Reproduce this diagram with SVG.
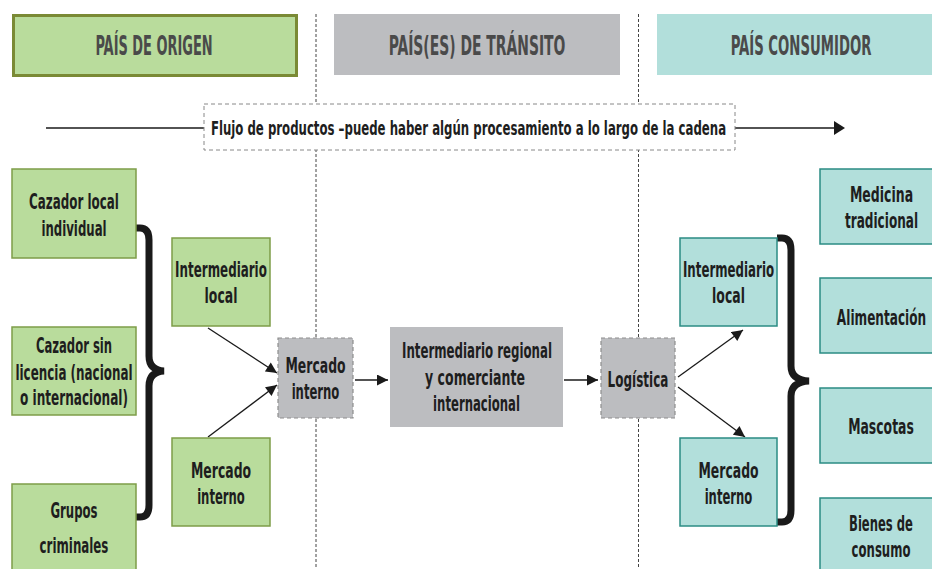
<svg xmlns="http://www.w3.org/2000/svg" width="932" height="569" viewBox="0 0 932 569">
<style>
text{font-family:"DejaVu Sans Condensed","DejaVu Sans",sans-serif;font-weight:bold;text-anchor:middle;fill:#1e1e1e;font-size:21px}
.hd{font-size:26px;fill:#4a4a4a}
.fl{font-size:19px}
.g{fill:#b9dc9c;stroke:#7e9d48;stroke-width:1.5}
.t{fill:#b2dfdb;stroke:#2b8c84;stroke-width:1.5}
.gr{fill:#bcbdc0}
.gd{fill:#bcbdc0;stroke:#8e8e8e;stroke-width:1.2;stroke-dasharray:4 3}
.vl{stroke:#444;stroke-width:1;stroke-dasharray:3 2;fill:none}
.ar{stroke:#1a1a1a;stroke-width:1.3;fill:none;marker-end:url(#ah)}
.br{stroke:#1a1a1a;stroke-width:7;fill:none}
</style>
<defs>
<marker id="ah" viewBox="0 0 10 10" refX="10" refY="5" markerUnits="userSpaceOnUse" markerWidth="12" markerHeight="11" orient="auto"><path d="M0,0 L10,5 L0,10 z" fill="#1a1a1a"/></marker>
</defs>
<rect width="932" height="569" fill="#fff"/>
<g id="dividers">
<line class="vl" x1="316" y1="14" x2="316" y2="569"/>
<line class="vl" x1="638.5" y1="14" x2="638.5" y2="569"/>
</g>
<g id="header-origen"><rect x="13.5" y="15.5" width="283" height="60" fill="#b9dc9c" stroke="#7a8a35" stroke-width="3"/><text class="hd" transform="matrix(0.62,0,0,1,154,0)" x="0" y="55" textLength="189" lengthAdjust="spacingAndGlyphs">PAÍS DE ORIGEN</text></g>
<g id="header-transito"><rect x="334" y="14" width="286" height="61" class="gr"/><text class="hd" transform="matrix(0.62,0,0,1,477,0)" x="0" y="55" textLength="285" lengthAdjust="spacingAndGlyphs">PAÍS(ES) DE TRÁNSITO</text></g>
<g id="header-consumidor"><rect x="657" y="14" width="275" height="61" fill="#b2dfdb"/><text class="hd" transform="matrix(0.62,0,0,1,801,0)" x="0" y="55" textLength="227" lengthAdjust="spacingAndGlyphs">PAÍS CONSUMIDOR</text></g>
<g id="connectors">
<line x1="46" y1="128" x2="204" y2="128" stroke="#1a1a1a" stroke-width="1.5"/>
<line x1="735" y1="128" x2="836" y2="128" stroke="#1a1a1a" stroke-width="1.5"/>
<path d="M834,121 L845,128 L834,135 z" fill="#1a1a1a"/>
<line class="ar" x1="208" y1="328" x2="277" y2="373"/>
<line class="ar" x1="208" y1="437" x2="277" y2="385"/>
<line class="ar" x1="355" y1="380" x2="388" y2="380"/>
<line class="ar" x1="564" y1="380" x2="598" y2="380"/>
<line class="ar" x1="678" y1="377" x2="743" y2="330"/>
<line class="ar" x1="678" y1="387" x2="745" y2="437"/>
<path class="br" d="M136,228 H140 Q149,228 149,240 V356 Q149,370 164,371 Q149,372 149,386 V505 Q149,517 140,517 H136"/>
<path class="br" d="M777,238 H782 Q791,238 791,250 V366 Q791,380 809,381 Q791,382 791,396 V510 Q791,522 782,522 H777"/>
</g>
<g id="flujo"><rect x="204" y="104" width="531" height="46" fill="#fff" stroke="#888" stroke-width="1" stroke-dasharray="4 3"/><text class="fl" transform="matrix(0.62,0,0,1,468.5,0)" x="0" y="135" textLength="831" lengthAdjust="spacingAndGlyphs">Flujo de productos –puede haber algún procesamiento a lo largo de la cadena</text></g>
<g id="cazador-local"><rect class="g" x="12" y="169" width="124" height="89"/><text transform="matrix(0.62,0,0,1,74,0)" x="0" y="209" textLength="145" lengthAdjust="spacingAndGlyphs">Cazador local</text><text transform="matrix(0.62,0,0,1,74,0)" x="0" y="236" textLength="105" lengthAdjust="spacingAndGlyphs">individual</text></g>
<g id="cazador-sin-licencia"><rect class="g" x="12" y="327" width="124" height="88"/><text transform="matrix(0.62,0,0,1,74,0)" x="0" y="353" textLength="123" lengthAdjust="spacingAndGlyphs">Cazador sin</text><text transform="matrix(0.62,0,0,1,74,0)" x="0" y="380" textLength="189" lengthAdjust="spacingAndGlyphs">licencia (nacional</text><text transform="matrix(0.62,0,0,1,74,0)" x="0" y="405" textLength="174" lengthAdjust="spacingAndGlyphs">o internacional)</text></g>
<g id="grupos-criminales"><rect class="g" x="12" y="484" width="124" height="95"/><text transform="matrix(0.62,0,0,1,74,0)" x="0" y="518" textLength="76" lengthAdjust="spacingAndGlyphs">Grupos</text><text transform="matrix(0.62,0,0,1,74,0)" x="0" y="553" textLength="111" lengthAdjust="spacingAndGlyphs">criminales</text></g>
<g id="intermediario-local-origen"><rect class="g" x="172" y="238" width="98" height="88"/><text transform="matrix(0.62,0,0,1,221,0)" x="0" y="277" textLength="148" lengthAdjust="spacingAndGlyphs">Intermediario</text><text transform="matrix(0.62,0,0,1,221,0)" x="0" y="303" textLength="53" lengthAdjust="spacingAndGlyphs">local</text></g>
<g id="mercado-interno-origen"><rect class="g" x="172" y="438" width="98" height="88"/><text transform="matrix(0.62,0,0,1,221,0)" x="0" y="478" textLength="97" lengthAdjust="spacingAndGlyphs">Mercado</text><text transform="matrix(0.62,0,0,1,221,0)" x="0" y="504" textLength="77" lengthAdjust="spacingAndGlyphs">interno</text></g>
<g id="mercado-interno-centro"><rect class="gd" x="278" y="338" width="75" height="80"/><text transform="matrix(0.62,0,0,1,315.5,0)" x="0" y="373" textLength="97" lengthAdjust="spacingAndGlyphs">Mercado</text><text transform="matrix(0.62,0,0,1,315.5,0)" x="0" y="399" textLength="77" lengthAdjust="spacingAndGlyphs">interno</text></g>
<g id="intermediario-regional"><rect class="gr" x="390" y="327" width="173" height="100"/><text transform="matrix(0.62,0,0,1,477,0)" x="0" y="358" textLength="242" lengthAdjust="spacingAndGlyphs">Intermediario regional</text><text transform="matrix(0.62,0,0,1,475,0)" x="0" y="385" textLength="161" lengthAdjust="spacingAndGlyphs">y comerciante</text><text transform="matrix(0.62,0,0,1,476.5,0)" x="0" y="411" textLength="140" lengthAdjust="spacingAndGlyphs">internacional</text></g>
<g id="logistica"><rect class="gd" x="601" y="338" width="74" height="80"/><text transform="matrix(0.62,0,0,1,638,0)" x="0" y="387" textLength="98" lengthAdjust="spacingAndGlyphs">Logística</text></g>
<g id="intermediario-local-consumidor"><rect class="t" x="680" y="238" width="97" height="88"/><text transform="matrix(0.62,0,0,1,728.5,0)" x="0" y="277" textLength="147" lengthAdjust="spacingAndGlyphs">Intermediario</text><text transform="matrix(0.62,0,0,1,728.5,0)" x="0" y="303" textLength="53" lengthAdjust="spacingAndGlyphs">local</text></g>
<g id="mercado-interno-consumidor"><rect class="t" x="680" y="438" width="97" height="88"/><text transform="matrix(0.62,0,0,1,728.5,0)" x="0" y="478" textLength="97" lengthAdjust="spacingAndGlyphs">Mercado</text><text transform="matrix(0.62,0,0,1,728.5,0)" x="0" y="504" textLength="77" lengthAdjust="spacingAndGlyphs">interno</text></g>
<g id="medicina-tradicional"><rect class="t" x="820" y="169" width="115" height="75"/><text transform="matrix(0.62,0,0,1,881.5,0)" x="0" y="202" textLength="102" lengthAdjust="spacingAndGlyphs">Medicina</text><text transform="matrix(0.62,0,0,1,881.5,0)" x="0" y="228" textLength="118" lengthAdjust="spacingAndGlyphs">tradicional</text></g>
<g id="alimentacion"><rect class="t" x="820" y="278" width="115" height="75"/><text transform="matrix(0.62,0,0,1,881.5,0)" x="0" y="325" textLength="144" lengthAdjust="spacingAndGlyphs">Alimentación</text></g>
<g id="mascotas"><rect class="t" x="820" y="388" width="115" height="75"/><text transform="matrix(0.62,0,0,1,881,0)" x="0" y="434" textLength="106" lengthAdjust="spacingAndGlyphs">Mascotas</text></g>
<g id="bienes-de-consumo"><rect class="t" x="820" y="498" width="115" height="80"/><text transform="matrix(0.62,0,0,1,881,0)" x="0" y="531" textLength="103" lengthAdjust="spacingAndGlyphs">Bienes de</text><text transform="matrix(0.62,0,0,1,881,0)" x="0" y="557" textLength="95" lengthAdjust="spacingAndGlyphs">consumo</text></g>
</svg>
